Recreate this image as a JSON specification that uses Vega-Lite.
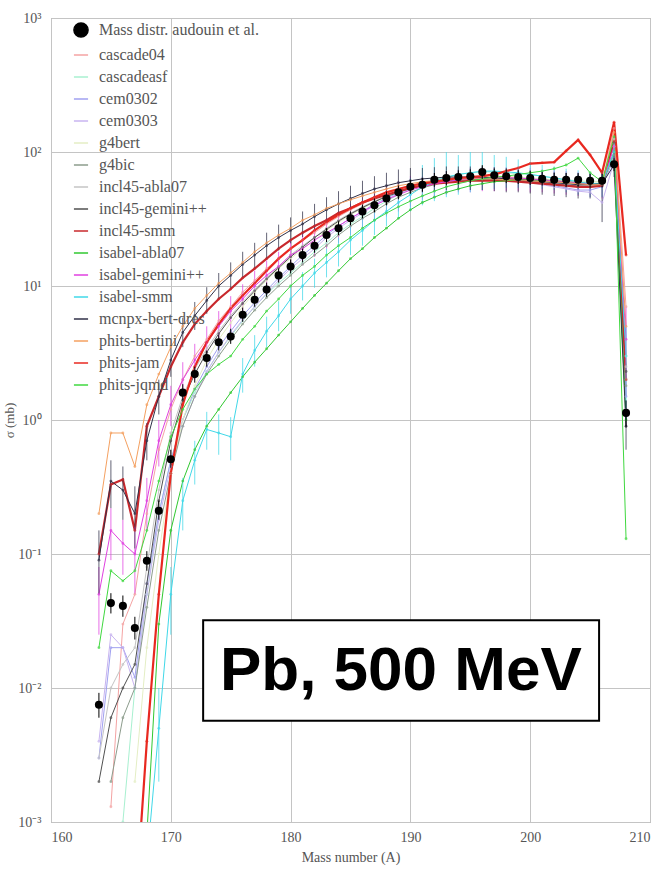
{
  "$schema": "https://vega.github.io/schema/vega-lite/v6.json",
  "width": 599,
  "height": 804,
  "autosize": {"type": "none"},
  "padding": {"left": 51, "top": 18, "right": 13, "bottom": 52},
  "background": "white",
  "config": {
    "view": {"stroke": "#9a9a9a", "strokeWidth": 1},
    "font": "Liberation Serif",
    "axis": {"labelFont": "Liberation Serif", "titleFont": "Liberation Serif", "labelColor": "#555", "titleColor": "#555", "titleFontWeight": "normal", "gridColor": "#c4c4c4", "domain": false, "ticks": false},
    "legend": {"labelFont": "Liberation Serif", "labelColor": "#555"}
  },
  "datasets": {
    "exp": [
      {"s":"Mass distr. audouin et al.","A":164,"v":0.0075,"lo":0.006,"hi":0.0092},
      {"s":"Mass distr. audouin et al.","A":165,"v":0.043,"lo":0.036,"hi":0.051},
      {"s":"Mass distr. audouin et al.","A":166,"v":0.041,"lo":0.034,"hi":0.049},
      {"s":"Mass distr. audouin et al.","A":167,"v":0.028,"lo":0.023,"hi":0.034},
      {"s":"Mass distr. audouin et al.","A":168,"v":0.089,"lo":0.075,"hi":0.105},
      {"s":"Mass distr. audouin et al.","A":169,"v":0.21,"lo":0.18,"hi":0.25},
      {"s":"Mass distr. audouin et al.","A":170,"v":0.51,"lo":0.44,"hi":0.6},
      {"s":"Mass distr. audouin et al.","A":171,"v":1.6,"lo":1.4,"hi":1.85},
      {"s":"Mass distr. audouin et al.","A":172,"v":2.2,"lo":1.9,"hi":2.5},
      {"s":"Mass distr. audouin et al.","A":173,"v":2.9,"lo":2.5,"hi":3.3},
      {"s":"Mass distr. audouin et al.","A":174,"v":3.8,"lo":3.3,"hi":4.3},
      {"s":"Mass distr. audouin et al.","A":175,"v":4.2,"lo":3.7,"hi":4.8},
      {"s":"Mass distr. audouin et al.","A":176,"v":6.1,"lo":5.4,"hi":6.9},
      {"s":"Mass distr. audouin et al.","A":177,"v":7.9,"lo":7,"hi":8.9},
      {"s":"Mass distr. audouin et al.","A":178,"v":9.4,"lo":8.3,"hi":10.6},
      {"s":"Mass distr. audouin et al.","A":179,"v":12,"lo":10.6,"hi":13.5},
      {"s":"Mass distr. audouin et al.","A":180,"v":14,"lo":12.4,"hi":15.8},
      {"s":"Mass distr. audouin et al.","A":181,"v":17,"lo":15,"hi":19},
      {"s":"Mass distr. audouin et al.","A":182,"v":20,"lo":17.7,"hi":22.5},
      {"s":"Mass distr. audouin et al.","A":183,"v":24,"lo":21.3,"hi":27},
      {"s":"Mass distr. audouin et al.","A":184,"v":27,"lo":24,"hi":30.4},
      {"s":"Mass distr. audouin et al.","A":185,"v":32,"lo":28.4,"hi":36},
      {"s":"Mass distr. audouin et al.","A":186,"v":36,"lo":32,"hi":40.5},
      {"s":"Mass distr. audouin et al.","A":187,"v":40,"lo":35.5,"hi":45},
      {"s":"Mass distr. audouin et al.","A":188,"v":45,"lo":40,"hi":50.6},
      {"s":"Mass distr. audouin et al.","A":189,"v":50,"lo":44.4,"hi":56.2},
      {"s":"Mass distr. audouin et al.","A":190,"v":55,"lo":48.8,"hi":61.9},
      {"s":"Mass distr. audouin et al.","A":191,"v":57,"lo":50.6,"hi":64},
      {"s":"Mass distr. audouin et al.","A":192,"v":62,"lo":55,"hi":69.7},
      {"s":"Mass distr. audouin et al.","A":193,"v":64,"lo":56.8,"hi":72},
      {"s":"Mass distr. audouin et al.","A":194,"v":65,"lo":57.7,"hi":73},
      {"s":"Mass distr. audouin et al.","A":195,"v":66,"lo":58.6,"hi":74.2},
      {"s":"Mass distr. audouin et al.","A":196,"v":71,"lo":63,"hi":79.8},
      {"s":"Mass distr. audouin et al.","A":197,"v":67,"lo":59.5,"hi":75.3},
      {"s":"Mass distr. audouin et al.","A":198,"v":66,"lo":58.6,"hi":74.2},
      {"s":"Mass distr. audouin et al.","A":199,"v":65,"lo":57.7,"hi":73},
      {"s":"Mass distr. audouin et al.","A":200,"v":64,"lo":56.8,"hi":72},
      {"s":"Mass distr. audouin et al.","A":201,"v":63,"lo":56,"hi":70.8},
      {"s":"Mass distr. audouin et al.","A":202,"v":62,"lo":55,"hi":69.7},
      {"s":"Mass distr. audouin et al.","A":203,"v":62,"lo":55,"hi":69.7},
      {"s":"Mass distr. audouin et al.","A":204,"v":62,"lo":55,"hi":69.7},
      {"s":"Mass distr. audouin et al.","A":205,"v":61,"lo":54.2,"hi":68.6},
      {"s":"Mass distr. audouin et al.","A":206,"v":61,"lo":54.2,"hi":68.6},
      {"s":"Mass distr. audouin et al.","A":207,"v":81,"lo":72,"hi":91},
      {"s":"Mass distr. audouin et al.","A":208,"v":1.13,"lo":0.88,"hi":1.4}
    ],
    "models": [
      {"s":"cascade04","A":165,"v":0.0013},{"s":"cascade04","A":166,"v":0.03},{"s":"cascade04","A":167,"v":0.05},{"s":"cascade04","A":168,"v":0.2},{"s":"cascade04","A":169,"v":0.6},{"s":"cascade04","A":170,"v":1.2},{"s":"cascade04","A":171,"v":2},{"s":"cascade04","A":172,"v":3},{"s":"cascade04","A":173,"v":4},{"s":"cascade04","A":174,"v":5.5},{"s":"cascade04","A":175,"v":7},{"s":"cascade04","A":176,"v":9},{"s":"cascade04","A":177,"v":11},{"s":"cascade04","A":178,"v":13.5},{"s":"cascade04","A":179,"v":16},{"s":"cascade04","A":180,"v":19},{"s":"cascade04","A":181,"v":22},{"s":"cascade04","A":182,"v":25},{"s":"cascade04","A":183,"v":29},{"s":"cascade04","A":184,"v":33},{"s":"cascade04","A":185,"v":37},{"s":"cascade04","A":186,"v":41},{"s":"cascade04","A":187,"v":45},{"s":"cascade04","A":188,"v":49},{"s":"cascade04","A":189,"v":53},{"s":"cascade04","A":190,"v":56},{"s":"cascade04","A":191,"v":59},{"s":"cascade04","A":192,"v":61},{"s":"cascade04","A":193,"v":63},{"s":"cascade04","A":194,"v":64},{"s":"cascade04","A":195,"v":65},{"s":"cascade04","A":196,"v":65},{"s":"cascade04","A":197,"v":65},{"s":"cascade04","A":198,"v":65},{"s":"cascade04","A":199,"v":64},{"s":"cascade04","A":200,"v":63},{"s":"cascade04","A":201,"v":62},{"s":"cascade04","A":202,"v":61},{"s":"cascade04","A":203,"v":60},{"s":"cascade04","A":204,"v":59},{"s":"cascade04","A":205,"v":58},{"s":"cascade04","A":206,"v":58},{"s":"cascade04","A":207,"v":150},{"s":"cascade04","A":208,"v":7},
      {"s":"cascadeasf","A":166,"v":0.001},{"s":"cascadeasf","A":167,"v":0.01},{"s":"cascadeasf","A":168,"v":0.05},{"s":"cascadeasf","A":169,"v":0.2},{"s":"cascadeasf","A":170,"v":0.5},{"s":"cascadeasf","A":171,"v":1},{"s":"cascadeasf","A":172,"v":1.6},{"s":"cascadeasf","A":173,"v":2.3},{"s":"cascadeasf","A":174,"v":3.2},{"s":"cascadeasf","A":175,"v":4.2},{"s":"cascadeasf","A":176,"v":5.5},{"s":"cascadeasf","A":177,"v":7},{"s":"cascadeasf","A":178,"v":8.7},{"s":"cascadeasf","A":179,"v":10.5},{"s":"cascadeasf","A":180,"v":12.5},{"s":"cascadeasf","A":181,"v":15},{"s":"cascadeasf","A":182,"v":18},{"s":"cascadeasf","A":183,"v":21},{"s":"cascadeasf","A":184,"v":25},{"s":"cascadeasf","A":185,"v":29},{"s":"cascadeasf","A":186,"v":33},{"s":"cascadeasf","A":187,"v":38},{"s":"cascadeasf","A":188,"v":43},{"s":"cascadeasf","A":189,"v":48},{"s":"cascadeasf","A":190,"v":53},{"s":"cascadeasf","A":191,"v":58},{"s":"cascadeasf","A":192,"v":62},{"s":"cascadeasf","A":193,"v":65},{"s":"cascadeasf","A":194,"v":68},{"s":"cascadeasf","A":195,"v":70},{"s":"cascadeasf","A":196,"v":71},{"s":"cascadeasf","A":197,"v":71},{"s":"cascadeasf","A":198,"v":70},{"s":"cascadeasf","A":199,"v":69},{"s":"cascadeasf","A":200,"v":68},{"s":"cascadeasf","A":201,"v":66},{"s":"cascadeasf","A":202,"v":64},{"s":"cascadeasf","A":203,"v":62},{"s":"cascadeasf","A":204,"v":61},{"s":"cascadeasf","A":205,"v":60},{"s":"cascadeasf","A":206,"v":60},{"s":"cascadeasf","A":207,"v":110},{"s":"cascadeasf","A":208,"v":2},
      {"s":"cem0302","A":164,"v":0.003},{"s":"cem0302","A":165,"v":0.02},{"s":"cem0302","A":166,"v":0.02},{"s":"cem0302","A":167,"v":0.012},{"s":"cem0302","A":168,"v":0.06},{"s":"cem0302","A":169,"v":0.2},{"s":"cem0302","A":170,"v":0.5},{"s":"cem0302","A":171,"v":1},{"s":"cem0302","A":172,"v":1.7},{"s":"cem0302","A":173,"v":2.5},{"s":"cem0302","A":174,"v":3.5},{"s":"cem0302","A":175,"v":4.6},{"s":"cem0302","A":176,"v":6},{"s":"cem0302","A":177,"v":7.5},{"s":"cem0302","A":178,"v":9.3},{"s":"cem0302","A":179,"v":11.5},{"s":"cem0302","A":180,"v":14},{"s":"cem0302","A":181,"v":17},{"s":"cem0302","A":182,"v":20},{"s":"cem0302","A":183,"v":24},{"s":"cem0302","A":184,"v":28},{"s":"cem0302","A":185,"v":32},{"s":"cem0302","A":186,"v":36},{"s":"cem0302","A":187,"v":41},{"s":"cem0302","A":188,"v":45},{"s":"cem0302","A":189,"v":50},{"s":"cem0302","A":190,"v":54},{"s":"cem0302","A":191,"v":57},{"s":"cem0302","A":192,"v":60},{"s":"cem0302","A":193,"v":62},{"s":"cem0302","A":194,"v":63},{"s":"cem0302","A":195,"v":64},{"s":"cem0302","A":196,"v":64},{"s":"cem0302","A":197,"v":64},{"s":"cem0302","A":198,"v":63},{"s":"cem0302","A":199,"v":62},{"s":"cem0302","A":200,"v":60},{"s":"cem0302","A":201,"v":58},{"s":"cem0302","A":202,"v":56},{"s":"cem0302","A":203,"v":54},{"s":"cem0302","A":204,"v":52},{"s":"cem0302","A":205,"v":52},{"s":"cem0302","A":206,"v":55},{"s":"cem0302","A":207,"v":90},{"s":"cem0302","A":208,"v":1.5},
      {"s":"cem0303","A":164,"v":0.004},{"s":"cem0303","A":165,"v":0.025},{"s":"cem0303","A":166,"v":0.02},{"s":"cem0303","A":167,"v":0.01},{"s":"cem0303","A":168,"v":0.05},{"s":"cem0303","A":169,"v":0.18},{"s":"cem0303","A":170,"v":0.45},{"s":"cem0303","A":171,"v":0.9},{"s":"cem0303","A":172,"v":1.5},{"s":"cem0303","A":173,"v":2.3},{"s":"cem0303","A":174,"v":3.2},{"s":"cem0303","A":175,"v":4.3},{"s":"cem0303","A":176,"v":5.6},{"s":"cem0303","A":177,"v":7},{"s":"cem0303","A":178,"v":8.8},{"s":"cem0303","A":179,"v":11},{"s":"cem0303","A":180,"v":13.5},{"s":"cem0303","A":181,"v":16},{"s":"cem0303","A":182,"v":19},{"s":"cem0303","A":183,"v":23},{"s":"cem0303","A":184,"v":27},{"s":"cem0303","A":185,"v":31},{"s":"cem0303","A":186,"v":35},{"s":"cem0303","A":187,"v":40},{"s":"cem0303","A":188,"v":44},{"s":"cem0303","A":189,"v":49},{"s":"cem0303","A":190,"v":53},{"s":"cem0303","A":191,"v":56},{"s":"cem0303","A":192,"v":59},{"s":"cem0303","A":193,"v":61},{"s":"cem0303","A":194,"v":62},{"s":"cem0303","A":195,"v":63},{"s":"cem0303","A":196,"v":63},{"s":"cem0303","A":197,"v":63},{"s":"cem0303","A":198,"v":62},{"s":"cem0303","A":199,"v":61},{"s":"cem0303","A":200,"v":59},{"s":"cem0303","A":201,"v":57},{"s":"cem0303","A":202,"v":55},{"s":"cem0303","A":203,"v":53},{"s":"cem0303","A":204,"v":51},{"s":"cem0303","A":205,"v":50},{"s":"cem0303","A":206,"v":42},{"s":"cem0303","A":207,"v":85},{"s":"cem0303","A":208,"v":1.2},
      {"s":"g4bert","A":167,"v":0.002},{"s":"g4bert","A":168,"v":0.02},{"s":"g4bert","A":169,"v":0.1},{"s":"g4bert","A":170,"v":0.4},{"s":"g4bert","A":171,"v":1},{"s":"g4bert","A":172,"v":1.8},{"s":"g4bert","A":173,"v":2.8},{"s":"g4bert","A":174,"v":4},{"s":"g4bert","A":175,"v":5.3},{"s":"g4bert","A":176,"v":7},{"s":"g4bert","A":177,"v":9},{"s":"g4bert","A":178,"v":11},{"s":"g4bert","A":179,"v":13.5},{"s":"g4bert","A":180,"v":16},{"s":"g4bert","A":181,"v":19},{"s":"g4bert","A":182,"v":22},{"s":"g4bert","A":183,"v":26},{"s":"g4bert","A":184,"v":30},{"s":"g4bert","A":185,"v":34},{"s":"g4bert","A":186,"v":38},{"s":"g4bert","A":187,"v":42},{"s":"g4bert","A":188,"v":47},{"s":"g4bert","A":189,"v":51},{"s":"g4bert","A":190,"v":55},{"s":"g4bert","A":191,"v":58},{"s":"g4bert","A":192,"v":61},{"s":"g4bert","A":193,"v":63},{"s":"g4bert","A":194,"v":64},{"s":"g4bert","A":195,"v":65},{"s":"g4bert","A":196,"v":66},{"s":"g4bert","A":197,"v":66},{"s":"g4bert","A":198,"v":66},{"s":"g4bert","A":199,"v":65},{"s":"g4bert","A":200,"v":64},{"s":"g4bert","A":201,"v":63},{"s":"g4bert","A":202,"v":62},{"s":"g4bert","A":203,"v":61},{"s":"g4bert","A":204,"v":60},{"s":"g4bert","A":205,"v":60},{"s":"g4bert","A":206,"v":60},{"s":"g4bert","A":207,"v":120},{"s":"g4bert","A":208,"v":3},
      {"s":"g4bic","A":165,"v":0.002},{"s":"g4bic","A":166,"v":0.006},{"s":"g4bic","A":167,"v":0.01},{"s":"g4bic","A":168,"v":0.04},{"s":"g4bic","A":169,"v":0.15},{"s":"g4bic","A":170,"v":0.4},{"s":"g4bic","A":171,"v":0.9},{"s":"g4bic","A":172,"v":1.5},{"s":"g4bic","A":173,"v":2.2},{"s":"g4bic","A":174,"v":3},{"s":"g4bic","A":175,"v":4},{"s":"g4bic","A":176,"v":5.2},{"s":"g4bic","A":177,"v":6.6},{"s":"g4bic","A":178,"v":8.2},{"s":"g4bic","A":179,"v":10},{"s":"g4bic","A":180,"v":12},{"s":"g4bic","A":181,"v":14.5},{"s":"g4bic","A":182,"v":17},{"s":"g4bic","A":183,"v":20},{"s":"g4bic","A":184,"v":24},{"s":"g4bic","A":185,"v":28},{"s":"g4bic","A":186,"v":32},{"s":"g4bic","A":187,"v":36},{"s":"g4bic","A":188,"v":41},{"s":"g4bic","A":189,"v":46},{"s":"g4bic","A":190,"v":50},{"s":"g4bic","A":191,"v":54},{"s":"g4bic","A":192,"v":57},{"s":"g4bic","A":193,"v":60},{"s":"g4bic","A":194,"v":62},{"s":"g4bic","A":195,"v":63},{"s":"g4bic","A":196,"v":64},{"s":"g4bic","A":197,"v":64},{"s":"g4bic","A":198,"v":64},{"s":"g4bic","A":199,"v":63},{"s":"g4bic","A":200,"v":62},{"s":"g4bic","A":201,"v":61},{"s":"g4bic","A":202,"v":60},{"s":"g4bic","A":203,"v":59},{"s":"g4bic","A":204,"v":58},{"s":"g4bic","A":205,"v":57},{"s":"g4bic","A":206,"v":57},{"s":"g4bic","A":207,"v":95},{"s":"g4bic","A":208,"v":1.8},
      {"s":"incl45-abla07","A":164,"v":0.003},{"s":"incl45-abla07","A":165,"v":0.01},{"s":"incl45-abla07","A":166,"v":0.015},{"s":"incl45-abla07","A":167,"v":0.02},{"s":"incl45-abla07","A":168,"v":0.08},{"s":"incl45-abla07","A":169,"v":0.3},{"s":"incl45-abla07","A":170,"v":0.8},{"s":"incl45-abla07","A":171,"v":1.5},{"s":"incl45-abla07","A":172,"v":2.4},{"s":"incl45-abla07","A":173,"v":3.4},{"s":"incl45-abla07","A":174,"v":4.6},{"s":"incl45-abla07","A":175,"v":6},{"s":"incl45-abla07","A":176,"v":7.6},{"s":"incl45-abla07","A":177,"v":9.4},{"s":"incl45-abla07","A":178,"v":11.5},{"s":"incl45-abla07","A":179,"v":14},{"s":"incl45-abla07","A":180,"v":17},{"s":"incl45-abla07","A":181,"v":20},{"s":"incl45-abla07","A":182,"v":23},{"s":"incl45-abla07","A":183,"v":27},{"s":"incl45-abla07","A":184,"v":31},{"s":"incl45-abla07","A":185,"v":35},{"s":"incl45-abla07","A":186,"v":39},{"s":"incl45-abla07","A":187,"v":43},{"s":"incl45-abla07","A":188,"v":47},{"s":"incl45-abla07","A":189,"v":51},{"s":"incl45-abla07","A":190,"v":54},{"s":"incl45-abla07","A":191,"v":57},{"s":"incl45-abla07","A":192,"v":59},{"s":"incl45-abla07","A":193,"v":61},{"s":"incl45-abla07","A":194,"v":62},{"s":"incl45-abla07","A":195,"v":63},{"s":"incl45-abla07","A":196,"v":63},{"s":"incl45-abla07","A":197,"v":63},{"s":"incl45-abla07","A":198,"v":62},{"s":"incl45-abla07","A":199,"v":61},{"s":"incl45-abla07","A":200,"v":60},{"s":"incl45-abla07","A":201,"v":59},{"s":"incl45-abla07","A":202,"v":58},{"s":"incl45-abla07","A":203,"v":57},{"s":"incl45-abla07","A":204,"v":56},{"s":"incl45-abla07","A":205,"v":56},{"s":"incl45-abla07","A":206,"v":57},{"s":"incl45-abla07","A":207,"v":125},{"s":"incl45-abla07","A":208,"v":2.5},
      {"s":"incl45-gemini++","A":164,"v":0.002},{"s":"incl45-gemini++","A":165,"v":0.006},{"s":"incl45-gemini++","A":166,"v":0.01},{"s":"incl45-gemini++","A":167,"v":0.015},{"s":"incl45-gemini++","A":168,"v":0.06},{"s":"incl45-gemini++","A":169,"v":0.25},{"s":"incl45-gemini++","A":170,"v":0.7},{"s":"incl45-gemini++","A":171,"v":1.4},{"s":"incl45-gemini++","A":172,"v":2.2},{"s":"incl45-gemini++","A":173,"v":3.2},{"s":"incl45-gemini++","A":174,"v":4.4},{"s":"incl45-gemini++","A":175,"v":5.8},{"s":"incl45-gemini++","A":176,"v":7.4},{"s":"incl45-gemini++","A":177,"v":9.2},{"s":"incl45-gemini++","A":178,"v":11.3},{"s":"incl45-gemini++","A":179,"v":13.7},{"s":"incl45-gemini++","A":180,"v":16.5},{"s":"incl45-gemini++","A":181,"v":19.5},{"s":"incl45-gemini++","A":182,"v":23},{"s":"incl45-gemini++","A":183,"v":26.5},{"s":"incl45-gemini++","A":184,"v":30.5},{"s":"incl45-gemini++","A":185,"v":34.5},{"s":"incl45-gemini++","A":186,"v":38.5},{"s":"incl45-gemini++","A":187,"v":42.5},{"s":"incl45-gemini++","A":188,"v":46.5},{"s":"incl45-gemini++","A":189,"v":50},{"s":"incl45-gemini++","A":190,"v":53.5},{"s":"incl45-gemini++","A":191,"v":56},{"s":"incl45-gemini++","A":192,"v":58.5},{"s":"incl45-gemini++","A":193,"v":60.5},{"s":"incl45-gemini++","A":194,"v":61.5},{"s":"incl45-gemini++","A":195,"v":62},{"s":"incl45-gemini++","A":196,"v":62},{"s":"incl45-gemini++","A":197,"v":62},{"s":"incl45-gemini++","A":198,"v":61.5},{"s":"incl45-gemini++","A":199,"v":60.5},{"s":"incl45-gemini++","A":200,"v":59.5},{"s":"incl45-gemini++","A":201,"v":58.5},{"s":"incl45-gemini++","A":202,"v":57.5},{"s":"incl45-gemini++","A":203,"v":56.5},{"s":"incl45-gemini++","A":204,"v":55.5},{"s":"incl45-gemini++","A":205,"v":55},{"s":"incl45-gemini++","A":206,"v":56},{"s":"incl45-gemini++","A":207,"v":118},{"s":"incl45-gemini++","A":208,"v":2.3},
      {"s":"incl45-smm","A":164,"v":0.1},{"s":"incl45-smm","A":165,"v":0.33},{"s":"incl45-smm","A":166,"v":0.36},{"s":"incl45-smm","A":167,"v":0.15},{"s":"incl45-smm","A":168,"v":0.9},{"s":"incl45-smm","A":169,"v":1.5},{"s":"incl45-smm","A":170,"v":2.5},{"s":"incl45-smm","A":171,"v":3.8},{"s":"incl45-smm","A":172,"v":5.2},{"s":"incl45-smm","A":173,"v":6.5},{"s":"incl45-smm","A":174,"v":8},{"s":"incl45-smm","A":175,"v":9.5},{"s":"incl45-smm","A":176,"v":11.5},{"s":"incl45-smm","A":177,"v":13.5},{"s":"incl45-smm","A":178,"v":16},{"s":"incl45-smm","A":179,"v":19},{"s":"incl45-smm","A":180,"v":22},{"s":"incl45-smm","A":181,"v":25},{"s":"incl45-smm","A":182,"v":28},{"s":"incl45-smm","A":183,"v":31},{"s":"incl45-smm","A":184,"v":35},{"s":"incl45-smm","A":185,"v":38},{"s":"incl45-smm","A":186,"v":42},{"s":"incl45-smm","A":187,"v":45},{"s":"incl45-smm","A":188,"v":48},{"s":"incl45-smm","A":189,"v":51},{"s":"incl45-smm","A":190,"v":54},{"s":"incl45-smm","A":191,"v":56},{"s":"incl45-smm","A":192,"v":58},{"s":"incl45-smm","A":193,"v":59},{"s":"incl45-smm","A":194,"v":60},{"s":"incl45-smm","A":195,"v":61},{"s":"incl45-smm","A":196,"v":61},{"s":"incl45-smm","A":197,"v":61},{"s":"incl45-smm","A":198,"v":61},{"s":"incl45-smm","A":199,"v":60},{"s":"incl45-smm","A":200,"v":59},{"s":"incl45-smm","A":201,"v":58},{"s":"incl45-smm","A":202,"v":57},{"s":"incl45-smm","A":203,"v":56},{"s":"incl45-smm","A":204,"v":55},{"s":"incl45-smm","A":205,"v":55},{"s":"incl45-smm","A":206,"v":56},{"s":"incl45-smm","A":207,"v":120},{"s":"incl45-smm","A":208,"v":2},
      {"s":"isabel-abla07","A":168,"v":0.0008},{"s":"isabel-abla07","A":169,"v":0.03},{"s":"isabel-abla07","A":170,"v":0.15},{"s":"isabel-abla07","A":171,"v":0.35},{"s":"isabel-abla07","A":172,"v":0.6},{"s":"isabel-abla07","A":173,"v":0.9},{"s":"isabel-abla07","A":174,"v":1.2},{"s":"isabel-abla07","A":175,"v":1.6},{"s":"isabel-abla07","A":176,"v":2.1},{"s":"isabel-abla07","A":177,"v":2.7},{"s":"isabel-abla07","A":178,"v":3.4},{"s":"isabel-abla07","A":179,"v":4.3},{"s":"isabel-abla07","A":180,"v":5.4},{"s":"isabel-abla07","A":181,"v":6.8},{"s":"isabel-abla07","A":182,"v":8.5},{"s":"isabel-abla07","A":183,"v":10.5},{"s":"isabel-abla07","A":184,"v":13},{"s":"isabel-abla07","A":185,"v":16},{"s":"isabel-abla07","A":186,"v":19},{"s":"isabel-abla07","A":187,"v":23},{"s":"isabel-abla07","A":188,"v":27},{"s":"isabel-abla07","A":189,"v":32},{"s":"isabel-abla07","A":190,"v":37},{"s":"isabel-abla07","A":191,"v":42},{"s":"isabel-abla07","A":192,"v":46},{"s":"isabel-abla07","A":193,"v":50},{"s":"isabel-abla07","A":194,"v":53},{"s":"isabel-abla07","A":195,"v":56},{"s":"isabel-abla07","A":196,"v":58},{"s":"isabel-abla07","A":197,"v":60},{"s":"isabel-abla07","A":198,"v":61},{"s":"isabel-abla07","A":199,"v":62},{"s":"isabel-abla07","A":200,"v":62},{"s":"isabel-abla07","A":201,"v":62},{"s":"isabel-abla07","A":202,"v":61},{"s":"isabel-abla07","A":203,"v":60},{"s":"isabel-abla07","A":204,"v":59},{"s":"isabel-abla07","A":205,"v":58},{"s":"isabel-abla07","A":206,"v":58},{"s":"isabel-abla07","A":207,"v":100},{"s":"isabel-abla07","A":208,"v":1},
      {"s":"isabel-gemini++","A":164,"v":0.05,"lo":0.025,"hi":0.08},{"s":"isabel-gemini++","A":165,"v":0.15,"lo":0.09,"hi":0.22},{"s":"isabel-gemini++","A":166,"v":0.12,"lo":0.07,"hi":0.18},{"s":"isabel-gemini++","A":167,"v":0.1,"lo":0.05,"hi":0.16},{"s":"isabel-gemini++","A":168,"v":0.25,"lo":0.15,"hi":0.37},{"s":"isabel-gemini++","A":169,"v":0.7,"lo":0.45,"hi":1},{"s":"isabel-gemini++","A":170,"v":1.3,"lo":0.9,"hi":1.8},{"s":"isabel-gemini++","A":171,"v":2,"lo":1.4,"hi":2.7},{"s":"isabel-gemini++","A":172,"v":2.8,"lo":2,"hi":3.7},{"s":"isabel-gemini++","A":173,"v":3.8,"lo":2.8,"hi":5},{"s":"isabel-gemini++","A":174,"v":5,"lo":3.7,"hi":6.5},{"s":"isabel-gemini++","A":175,"v":6.5,"lo":4.8,"hi":8.4},{"s":"isabel-gemini++","A":176,"v":8,"lo":6,"hi":10.3},{"s":"isabel-gemini++","A":177,"v":10,"lo":7.5,"hi":13},{"s":"isabel-gemini++","A":178,"v":12,"lo":9,"hi":15.5},{"s":"isabel-gemini++","A":179,"v":14,"lo":10.5,"hi":18},{"s":"isabel-gemini++","A":180,"v":17,"lo":12.8,"hi":22},{"s":"isabel-gemini++","A":181,"v":19,"lo":14.3,"hi":24.5},{"s":"isabel-gemini++","A":182,"v":22,"lo":16.5,"hi":28.5},{"s":"isabel-gemini++","A":183,"v":25,"lo":19,"hi":32},{"s":"isabel-gemini++","A":184,"v":28,"lo":21,"hi":36},{"s":"isabel-gemini++","A":185,"v":32,"lo":24,"hi":41},{"s":"isabel-gemini++","A":186,"v":36,"lo":27,"hi":46},{"s":"isabel-gemini++","A":187,"v":40,"lo":30,"hi":51},{"s":"isabel-gemini++","A":188,"v":44,"lo":33,"hi":56},{"s":"isabel-gemini++","A":189,"v":48,"lo":36,"hi":61},{"s":"isabel-gemini++","A":190,"v":52,"lo":39,"hi":66},{"s":"isabel-gemini++","A":191,"v":55,"lo":44,"hi":66},{"s":"isabel-gemini++","A":192,"v":58,"lo":46,"hi":70},{"s":"isabel-gemini++","A":193,"v":60,"lo":48,"hi":72},{"s":"isabel-gemini++","A":194,"v":62,"lo":50,"hi":74},{"s":"isabel-gemini++","A":195,"v":63,"lo":50,"hi":76},{"s":"isabel-gemini++","A":196,"v":64,"lo":51,"hi":77},{"s":"isabel-gemini++","A":197,"v":64,"lo":51,"hi":77},{"s":"isabel-gemini++","A":198,"v":64,"lo":51,"hi":77},{"s":"isabel-gemini++","A":199,"v":64,"lo":51,"hi":77},{"s":"isabel-gemini++","A":200,"v":63,"lo":50,"hi":76},{"s":"isabel-gemini++","A":201,"v":62,"lo":50,"hi":74},{"s":"isabel-gemini++","A":202,"v":61,"lo":49,"hi":73},{"s":"isabel-gemini++","A":203,"v":60,"lo":48,"hi":72},{"s":"isabel-gemini++","A":204,"v":59,"lo":47,"hi":71},{"s":"isabel-gemini++","A":205,"v":58,"lo":46,"hi":70},{"s":"isabel-gemini++","A":206,"v":57,"lo":45,"hi":69},{"s":"isabel-gemini++","A":207,"v":110,"lo":90,"hi":130},{"s":"isabel-gemini++","A":208,"v":4,"lo":1.5,"hi":7},
      {"s":"isabel-smm","A":168,"v":0.0005},{"s":"isabel-smm","A":169,"v":0.005,"lo":0.002,"hi":0.01},{"s":"isabel-smm","A":170,"v":0.05,"lo":0.025,"hi":0.08},{"s":"isabel-smm","A":171,"v":0.25,"lo":0.15,"hi":0.37},{"s":"isabel-smm","A":172,"v":0.5,"lo":0.33,"hi":0.7},{"s":"isabel-smm","A":173,"v":0.85,"lo":0.6,"hi":1.15},{"s":"isabel-smm","A":174,"v":0.8,"lo":0.55,"hi":1.1},{"s":"isabel-smm","A":175,"v":0.75,"lo":0.5,"hi":1.05},{"s":"isabel-smm","A":176,"v":2.2,"lo":1.6,"hi":2.9},{"s":"isabel-smm","A":177,"v":3.3,"lo":2.5,"hi":4.3},{"s":"isabel-smm","A":178,"v":4.6,"lo":3.5,"hi":5.9},{"s":"isabel-smm","A":179,"v":6,"lo":4.6,"hi":7.7},{"s":"isabel-smm","A":180,"v":8,"lo":6.2,"hi":10.2},{"s":"isabel-smm","A":181,"v":10,"lo":7.8,"hi":12.7},{"s":"isabel-smm","A":182,"v":12.5,"lo":9.7,"hi":16},{"s":"isabel-smm","A":183,"v":15,"lo":11.6,"hi":19},{"s":"isabel-smm","A":184,"v":18,"lo":14,"hi":23},{"s":"isabel-smm","A":185,"v":22,"lo":17,"hi":28},{"s":"isabel-smm","A":186,"v":26,"lo":20,"hi":33},{"s":"isabel-smm","A":187,"v":31,"lo":24,"hi":40},{"s":"isabel-smm","A":188,"v":36,"lo":28,"hi":46},{"s":"isabel-smm","A":189,"v":42,"lo":32,"hi":55},{"s":"isabel-smm","A":190,"v":48,"lo":36,"hi":64},{"s":"isabel-smm","A":191,"v":55,"lo":40,"hi":80},{"s":"isabel-smm","A":192,"v":60,"lo":43,"hi":90},{"s":"isabel-smm","A":193,"v":65,"lo":46,"hi":100},{"s":"isabel-smm","A":194,"v":68,"lo":48,"hi":95},{"s":"isabel-smm","A":195,"v":70,"lo":50,"hi":100},{"s":"isabel-smm","A":196,"v":72,"lo":52,"hi":100},{"s":"isabel-smm","A":197,"v":72,"lo":53,"hi":95},{"s":"isabel-smm","A":198,"v":71,"lo":54,"hi":92},{"s":"isabel-smm","A":199,"v":70,"lo":54,"hi":88},{"s":"isabel-smm","A":200,"v":68,"lo":54,"hi":84},{"s":"isabel-smm","A":201,"v":66,"lo":53,"hi":80},{"s":"isabel-smm","A":202,"v":64,"lo":52,"hi":78},{"s":"isabel-smm","A":203,"v":62,"lo":50,"hi":75},{"s":"isabel-smm","A":204,"v":60,"lo":48,"hi":73},{"s":"isabel-smm","A":205,"v":58,"lo":46,"hi":71},{"s":"isabel-smm","A":206,"v":58,"lo":46,"hi":71},{"s":"isabel-smm","A":207,"v":100,"lo":80,"hi":120},{"s":"isabel-smm","A":208,"v":3,"lo":1,"hi":5},
      {"s":"mcnpx-bert-dres","A":164,"v":0.09,"lo":0.05,"hi":0.15},{"s":"mcnpx-bert-dres","A":165,"v":0.35,"lo":0.22,"hi":0.5},{"s":"mcnpx-bert-dres","A":166,"v":0.3,"lo":0.18,"hi":0.45},{"s":"mcnpx-bert-dres","A":167,"v":0.2,"lo":0.11,"hi":0.32},{"s":"mcnpx-bert-dres","A":168,"v":0.7,"lo":0.5,"hi":0.95},{"s":"mcnpx-bert-dres","A":169,"v":1.5,"lo":1.1,"hi":2},{"s":"mcnpx-bert-dres","A":170,"v":2.8,"lo":2.1,"hi":3.6},{"s":"mcnpx-bert-dres","A":171,"v":4.5,"lo":3.5,"hi":5.8},{"s":"mcnpx-bert-dres","A":172,"v":6,"lo":4.7,"hi":7.6},{"s":"mcnpx-bert-dres","A":173,"v":7.8,"lo":6.2,"hi":9.8},{"s":"mcnpx-bert-dres","A":174,"v":10,"lo":8,"hi":12.5},{"s":"mcnpx-bert-dres","A":175,"v":12,"lo":9.6,"hi":15},{"s":"mcnpx-bert-dres","A":176,"v":14.5,"lo":11.6,"hi":18},{"s":"mcnpx-bert-dres","A":177,"v":17,"lo":13.6,"hi":21},{"s":"mcnpx-bert-dres","A":178,"v":20,"lo":16,"hi":25},{"s":"mcnpx-bert-dres","A":179,"v":23,"lo":18.4,"hi":28.7},{"s":"mcnpx-bert-dres","A":180,"v":26,"lo":20.8,"hi":32.5},{"s":"mcnpx-bert-dres","A":181,"v":29,"lo":23.2,"hi":36},{"s":"mcnpx-bert-dres","A":182,"v":33,"lo":26.4,"hi":41},{"s":"mcnpx-bert-dres","A":183,"v":37,"lo":29.6,"hi":46},{"s":"mcnpx-bert-dres","A":184,"v":41,"lo":32.8,"hi":51},{"s":"mcnpx-bert-dres","A":185,"v":45,"lo":36,"hi":56},{"s":"mcnpx-bert-dres","A":186,"v":49,"lo":39,"hi":61},{"s":"mcnpx-bert-dres","A":187,"v":53,"lo":42,"hi":66},{"s":"mcnpx-bert-dres","A":188,"v":56,"lo":45,"hi":70},{"s":"mcnpx-bert-dres","A":189,"v":59,"lo":47,"hi":74},{"s":"mcnpx-bert-dres","A":190,"v":61,"lo":49,"hi":76},{"s":"mcnpx-bert-dres","A":191,"v":63,"lo":50,"hi":76},{"s":"mcnpx-bert-dres","A":192,"v":64,"lo":51,"hi":77},{"s":"mcnpx-bert-dres","A":193,"v":65,"lo":52,"hi":78},{"s":"mcnpx-bert-dres","A":194,"v":65,"lo":52,"hi":78},{"s":"mcnpx-bert-dres","A":195,"v":65,"lo":52,"hi":78},{"s":"mcnpx-bert-dres","A":196,"v":65,"lo":52,"hi":78},{"s":"mcnpx-bert-dres","A":197,"v":64,"lo":51,"hi":77},{"s":"mcnpx-bert-dres","A":198,"v":63,"lo":50,"hi":76},{"s":"mcnpx-bert-dres","A":199,"v":62,"lo":50,"hi":74},{"s":"mcnpx-bert-dres","A":200,"v":61,"lo":49,"hi":73},{"s":"mcnpx-bert-dres","A":201,"v":60,"lo":48,"hi":72},{"s":"mcnpx-bert-dres","A":202,"v":59,"lo":47,"hi":71},{"s":"mcnpx-bert-dres","A":203,"v":58,"lo":46,"hi":70},{"s":"mcnpx-bert-dres","A":204,"v":57,"lo":45,"hi":69},{"s":"mcnpx-bert-dres","A":205,"v":57,"lo":45,"hi":69},{"s":"mcnpx-bert-dres","A":206,"v":58,"lo":30,"hi":72},{"s":"mcnpx-bert-dres","A":207,"v":80,"lo":65,"hi":98},{"s":"mcnpx-bert-dres","A":208,"v":0.9,"lo":0.6,"hi":1.2},
      {"s":"phits-bertini","A":164,"v":0.2},{"s":"phits-bertini","A":165,"v":0.8},{"s":"phits-bertini","A":166,"v":0.8},{"s":"phits-bertini","A":167,"v":0.45},{"s":"phits-bertini","A":168,"v":1.3},{"s":"phits-bertini","A":169,"v":2.2},{"s":"phits-bertini","A":170,"v":3.5},{"s":"phits-bertini","A":171,"v":5},{"s":"phits-bertini","A":172,"v":6.8},{"s":"phits-bertini","A":173,"v":8.5},{"s":"phits-bertini","A":174,"v":10.5},{"s":"phits-bertini","A":175,"v":12.5},{"s":"phits-bertini","A":176,"v":15},{"s":"phits-bertini","A":177,"v":18},{"s":"phits-bertini","A":178,"v":21},{"s":"phits-bertini","A":179,"v":24},{"s":"phits-bertini","A":180,"v":27},{"s":"phits-bertini","A":181,"v":31},{"s":"phits-bertini","A":182,"v":34},{"s":"phits-bertini","A":183,"v":38},{"s":"phits-bertini","A":184,"v":41},{"s":"phits-bertini","A":185,"v":44},{"s":"phits-bertini","A":186,"v":47},{"s":"phits-bertini","A":187,"v":50},{"s":"phits-bertini","A":188,"v":53},{"s":"phits-bertini","A":189,"v":56},{"s":"phits-bertini","A":190,"v":58},{"s":"phits-bertini","A":191,"v":60},{"s":"phits-bertini","A":192,"v":61},{"s":"phits-bertini","A":193,"v":62},{"s":"phits-bertini","A":194,"v":63},{"s":"phits-bertini","A":195,"v":63},{"s":"phits-bertini","A":196,"v":63},{"s":"phits-bertini","A":197,"v":63},{"s":"phits-bertini","A":198,"v":62},{"s":"phits-bertini","A":199,"v":62},{"s":"phits-bertini","A":200,"v":61},{"s":"phits-bertini","A":201,"v":60},{"s":"phits-bertini","A":202,"v":60},{"s":"phits-bertini","A":203,"v":59},{"s":"phits-bertini","A":204,"v":58},{"s":"phits-bertini","A":205,"v":57},{"s":"phits-bertini","A":206,"v":57},{"s":"phits-bertini","A":207,"v":140},{"s":"phits-bertini","A":208,"v":5},
      {"s":"phits-jam","A":167,"v":0.0002},{"s":"phits-jam","A":168,"v":0.004},{"s":"phits-jam","A":169,"v":0.05},{"s":"phits-jam","A":170,"v":0.4},{"s":"phits-jam","A":171,"v":1.3},{"s":"phits-jam","A":172,"v":2.5},{"s":"phits-jam","A":173,"v":3.8},{"s":"phits-jam","A":174,"v":5.2},{"s":"phits-jam","A":175,"v":6.8},{"s":"phits-jam","A":176,"v":8.5},{"s":"phits-jam","A":177,"v":10.5},{"s":"phits-jam","A":178,"v":13},{"s":"phits-jam","A":179,"v":16},{"s":"phits-jam","A":180,"v":19},{"s":"phits-jam","A":181,"v":22},{"s":"phits-jam","A":182,"v":26},{"s":"phits-jam","A":183,"v":30},{"s":"phits-jam","A":184,"v":34},{"s":"phits-jam","A":185,"v":38},{"s":"phits-jam","A":186,"v":42},{"s":"phits-jam","A":187,"v":46},{"s":"phits-jam","A":188,"v":50},{"s":"phits-jam","A":189,"v":53},{"s":"phits-jam","A":190,"v":56},{"s":"phits-jam","A":191,"v":58},{"s":"phits-jam","A":192,"v":60},{"s":"phits-jam","A":193,"v":62},{"s":"phits-jam","A":194,"v":64},{"s":"phits-jam","A":195,"v":65},{"s":"phits-jam","A":196,"v":66},{"s":"phits-jam","A":197,"v":68},{"s":"phits-jam","A":198,"v":72},{"s":"phits-jam","A":199,"v":76},{"s":"phits-jam","A":200,"v":82},{"s":"phits-jam","A":201,"v":83},{"s":"phits-jam","A":202,"v":84},{"s":"phits-jam","A":203,"v":102},{"s":"phits-jam","A":204,"v":123},{"s":"phits-jam","A":205,"v":95},{"s":"phits-jam","A":206,"v":70},{"s":"phits-jam","A":207,"v":167},{"s":"phits-jam","A":208,"v":17},
      {"s":"phits-jqmd","A":164,"v":0.02},{"s":"phits-jqmd","A":165,"v":0.075},{"s":"phits-jqmd","A":166,"v":0.063},{"s":"phits-jqmd","A":167,"v":0.075},{"s":"phits-jqmd","A":168,"v":0.15},{"s":"phits-jqmd","A":169,"v":0.35},{"s":"phits-jqmd","A":170,"v":0.75},{"s":"phits-jqmd","A":171,"v":1.2},{"s":"phits-jqmd","A":172,"v":1.7},{"s":"phits-jqmd","A":173,"v":2.2},{"s":"phits-jqmd","A":174,"v":2.6},{"s":"phits-jqmd","A":175,"v":3},{"s":"phits-jqmd","A":176,"v":4},{"s":"phits-jqmd","A":177,"v":5},{"s":"phits-jqmd","A":178,"v":6.5},{"s":"phits-jqmd","A":179,"v":8},{"s":"phits-jqmd","A":180,"v":10},{"s":"phits-jqmd","A":181,"v":12},{"s":"phits-jqmd","A":182,"v":14},{"s":"phits-jqmd","A":183,"v":17},{"s":"phits-jqmd","A":184,"v":20},{"s":"phits-jqmd","A":185,"v":23},{"s":"phits-jqmd","A":186,"v":27},{"s":"phits-jqmd","A":187,"v":31},{"s":"phits-jqmd","A":188,"v":35},{"s":"phits-jqmd","A":189,"v":39},{"s":"phits-jqmd","A":190,"v":43},{"s":"phits-jqmd","A":191,"v":47},{"s":"phits-jqmd","A":192,"v":51},{"s":"phits-jqmd","A":193,"v":55},{"s":"phits-jqmd","A":194,"v":58},{"s":"phits-jqmd","A":195,"v":61},{"s":"phits-jqmd","A":196,"v":63},{"s":"phits-jqmd","A":197,"v":65},{"s":"phits-jqmd","A":198,"v":66},{"s":"phits-jqmd","A":199,"v":68},{"s":"phits-jqmd","A":200,"v":70},{"s":"phits-jqmd","A":201,"v":72},{"s":"phits-jqmd","A":202,"v":75},{"s":"phits-jqmd","A":203,"v":80},{"s":"phits-jqmd","A":204,"v":90},{"s":"phits-jqmd","A":205,"v":70},{"s":"phits-jqmd","A":206,"v":60},{"s":"phits-jqmd","A":207,"v":130},{"s":"phits-jqmd","A":208,"v":0.13}
    ]
  },
  "layer": [
    {
      "data": {"name": "models"},
      "mark": {"type": "line", "clip": true, "interpolate": "linear"},
      "encoding": {
        "x": {"field": "A", "type": "quantitative", "scale": {"domain": [160, 210], "nice": false, "zero": false},
          "axis": {"values": [160, 170, 180, 190, 200, 210], "title": "Mass number (A)", "labelFontSize": 14, "titleFontSize": 14, "labelPadding": 8, "titlePadding": 6, "grid": true}},
        "y": {"field": "v", "type": "quantitative", "scale": {"type": "log", "domain": [0.001, 1000], "nice": false},
          "axis": {"values": [0.001, 0.01, 0.1, 1, 10, 100, 1000], "title": "σ (mb)", "labelFontSize": 14, "titleFontSize": 13, "labelPadding": 10, "titlePadding": 1, "grid": true,
            "labelExpr": "datum.value > 500 ? '10³' : datum.value > 50 ? '10²' : datum.value > 5 ? '10¹' : datum.value > 0.5 ? '10⁰' : datum.value > 0.05 ? '10⁻¹' : datum.value > 0.005 ? '10⁻²' : '10⁻³'"}},
        "color": {"field": "s", "type": "nominal",
          "scale": {"domain": ["Mass distr. audouin et al.","cascade04","cascadeasf","cem0302","cem0303","g4bert","g4bic","incl45-abla07","incl45-gemini++","incl45-smm","isabel-abla07","isabel-gemini++","isabel-smm","mcnpx-bert-dres","phits-bertini","phits-jam","phits-jqmd"],
            "range": ["#000000","#f4a3a3","#a8f0d0","#a0a0f0","#c8b4f0","#e4eec4","#8c9c8c","#c4c4c4","#505050","#c8282c","#30c830","#e040e0","#40d8e8","#303048","#f4a060","#e82820","#40d840"]},
          "legend": {"title": null, "orient": "none", "legendX": 22, "legendY": 4, "labelFontSize": 16, "symbolSize": 200, "symbolStrokeWidth": 1.5, "rowPadding": 6, "labelOffset": 10, "padding": 0}},
        "shape": {"field": "s", "type": "nominal",
          "scale": {"domain": ["Mass distr. audouin et al.","cascade04","cascadeasf","cem0302","cem0303","g4bert","g4bic","incl45-abla07","incl45-gemini++","incl45-smm","isabel-abla07","isabel-gemini++","isabel-smm","mcnpx-bert-dres","phits-bertini","phits-jam","phits-jqmd"],
            "range": ["circle","stroke","stroke","stroke","stroke","stroke","stroke","stroke","stroke","stroke","stroke","stroke","stroke","stroke","stroke","stroke","stroke"]}},
        "strokeWidth": {"field": "s", "type": "nominal", "legend": null,
          "scale": {"domain": ["incl45-smm","phits-jam"], "range": [2.2, 2.2], "unknown": 1}}
      }
    },
    {
      "data": {"name": "models"},
      "mark": {"type": "rule", "clip": true, "strokeWidth": 1, "opacity": 0.75},
      "encoding": {
        "x": {"field": "A", "type": "quantitative"},
        "y": {"field": "lo", "type": "quantitative"},
        "y2": {"field": "hi"},
        "color": {"field": "s", "type": "nominal", "legend": null}
      }
    },
    {
      "data": {"name": "models"},
      "mark": {"type": "point", "clip": true, "filled": true, "size": 8, "shape": "circle"},
      "encoding": {
        "x": {"field": "A", "type": "quantitative"},
        "y": {"field": "v", "type": "quantitative"},
        "color": {"field": "s", "type": "nominal", "legend": null}
      }
    },
    {
      "data": {"name": "exp"},
      "mark": {"type": "rule", "color": "#000000", "strokeWidth": 1},
      "encoding": {
        "x": {"field": "A", "type": "quantitative"},
        "y": {"field": "lo", "type": "quantitative"},
        "y2": {"field": "hi"}
      }
    },
    {
      "data": {"name": "exp"},
      "mark": {"type": "point", "filled": true, "size": 65, "opacity": 1},
      "encoding": {
        "x": {"field": "A", "type": "quantitative"},
        "y": {"field": "v", "type": "quantitative"},
        "color": {"field": "s", "type": "nominal"},
        "shape": {"field": "s", "type": "nominal"}
      }
    },
    {
      "data": {"values": [{}]},
      "mark": {"type": "rect", "fill": "white", "stroke": "black", "strokeWidth": 2},
      "encoding": {"x": {"datum": 172.7}, "x2": {"datum": 205.75}, "y": {"datum": 0.032}, "y2": {"datum": 0.0057}}
    },
    {
      "data": {"values": [{}]},
      "mark": {"type": "text", "text": "Pb, 500 MeV", "font": "Liberation Sans", "fontWeight": "bold", "fontSize": 62, "align": "center", "baseline": "middle", "color": "black"},
      "encoding": {"x": {"datum": 189.2}, "y": {"datum": 0.0135}}
    }
  ]
}
